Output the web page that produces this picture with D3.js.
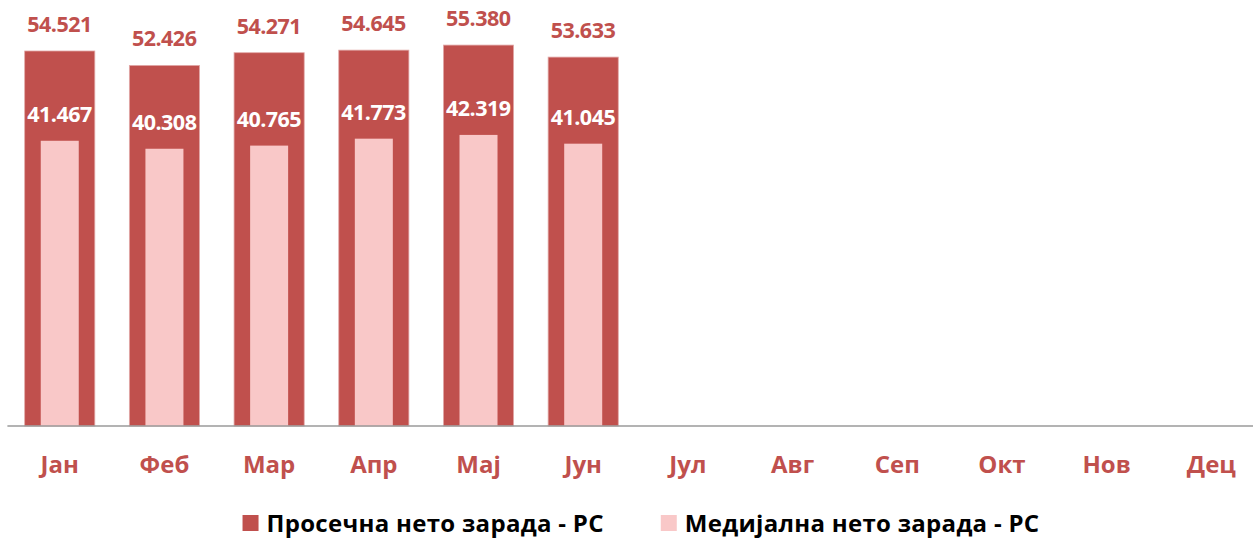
<!DOCTYPE html>
<html>
<head>
<meta charset="utf-8">
<script src="https://cdn.jsdelivr.net/npm/d3@7"></script>
<style>
  body { margin: 0; background: #fff; }
  svg text { font-family: "Open Sans", sans-serif; font-weight: bold; }
</style>
</head>
<body>
<svg id="chart"></svg>
<script>
// months (only Jan-Jun have data)
let months = ["Јан", "Феб", "Мар", "Апр", "Мај", "Јун", "Јул", "Авг", "Сеп", "Окт", "Нов", "Дец"];
let avgWage = [54521, 52426, 54271, 54645, 55380, 53633];
let medianWage = [41467, 40308, 40765, 41773, 42319, 41045];
let seriesNames = ["Просечна нето зарада - РС", "Медијална нето зарада - РС"];
let yTicks = [0, 60000];

var width = 1253, height = 538;
var colAvg = "#C0504D", colMed = "#F9C8C8";

var svg = d3.select("#chart")
    .attr("width", width)
    .attr("height", height);

var x = d3.scaleBand()
    .domain(months)
    .range([7.4, 1263.7])
    .paddingInner(0.33)
    .paddingOuter(0.165);

var y = d3.scaleLinear()
    .domain(d3.extent(yTicks))
    .range([426, 13.3]);

// thousands with dot, like the original
var fmt = d3.formatLocale({decimal: ",", thousands: ".", grouping: [3], currency: ["", ""]}).format(",d");

var avgData = avgWage.map(function(v, i) { return {m: months[i], v: v}; });
var medData = medianWage.map(function(v, i) { return {m: months[i], v: v}; });

var innerW = x.step() * 0.363;

svg.selectAll(".avg")
  .data(avgData)
  .enter().append("rect")
  .attr("class", "avg")
  .attr("x", function(d) { return x(d.m); })
  .attr("width", x.bandwidth())
  .attr("y", function(d) { return y(d.v); })
  .attr("height", function(d) { return y(0) - y(d.v); })
  .attr("fill", colAvg)
  .attr("stroke", "#E2A9A8")
  .attr("stroke-width", 0.8);

svg.selectAll(".med")
  .data(medData)
  .enter().append("rect")
  .attr("class", "med")
  .attr("x", function(d) { return x(d.m) + x.bandwidth() / 2 - innerW / 2; })
  .attr("width", innerW)
  .attr("y", function(d) { return y(d.v); })
  .attr("height", function(d) { return y(0) - y(d.v); })
  .attr("fill", colMed);

// value labels are wide in the original, so stretch the spacing a bit
svg.selectAll(".avgLbl")
  .data(avgData)
  .enter().append("text")
  .attr("x", function(d) { return x(d.m) + x.bandwidth() / 2; })
  .attr("y", function(d) { return y(d.v) - 19; })
  .attr("text-anchor", "middle")
  .attr("font-size", 21.5)
  .attr("textLength", 65)
  .attr("lengthAdjust", "spacing")
  .attr("fill", colAvg)
  .text(function(d) { return fmt(d.v); });

svg.selectAll(".medLbl")
  .data(medData)
  .enter().append("text")
  .attr("x", function(d) { return x(d.m) + x.bandwidth() / 2; })
  .attr("y", function(d) { return y(d.v) - 18.5; })
  .attr("text-anchor", "middle")
  .attr("font-size", 21.5)
  .attr("textLength", 65)
  .attr("lengthAdjust", "spacing")
  .attr("fill", "#fff")
  .text(function(d) { return fmt(d.v); });

// category axis
var xAxis = svg.append("g")
  .attr("transform", "translate(0," + y(0) + ")")
  .call(d3.axisBottom(x).tickSize(0).tickPadding(0));
xAxis.select(".domain").attr("stroke", "#9A9A9A").attr("stroke-width", 1.5)
  .attr("d", "M7.4,0H" + width);
xAxis.selectAll("text")
  .attr("y", 47)
  .attr("dy", null)
  .attr("font-size", 24)
  .attr("font-family", "Open Sans, sans-serif")
  .attr("font-weight", "bold")
  .attr("fill", colAvg);

// legend
var legend = svg.append("g");
var lx = 0;
seriesNames.forEach(function(name, i) {
  var g = legend.append("g").attr("transform", "translate(" + lx + ",0)");
  g.append("rect").attr("x", 0).attr("y", 515).attr("width", 16).attr("height", 16)
    .attr("fill", i === 0 ? colAvg : colMed);
  var t = g.append("text").attr("x", 24).attr("y", 531.5)
    .attr("font-size", 24).attr("letter-spacing", 0.3).attr("fill", "#000").text(name);
  lx += 24 + t.node().getComputedTextLength() + 57;
});
var legW = lx - 57;
legend.attr("transform", "translate(" + (641 - legW / 2) + ",0)");
</script>
</body>
</html>
